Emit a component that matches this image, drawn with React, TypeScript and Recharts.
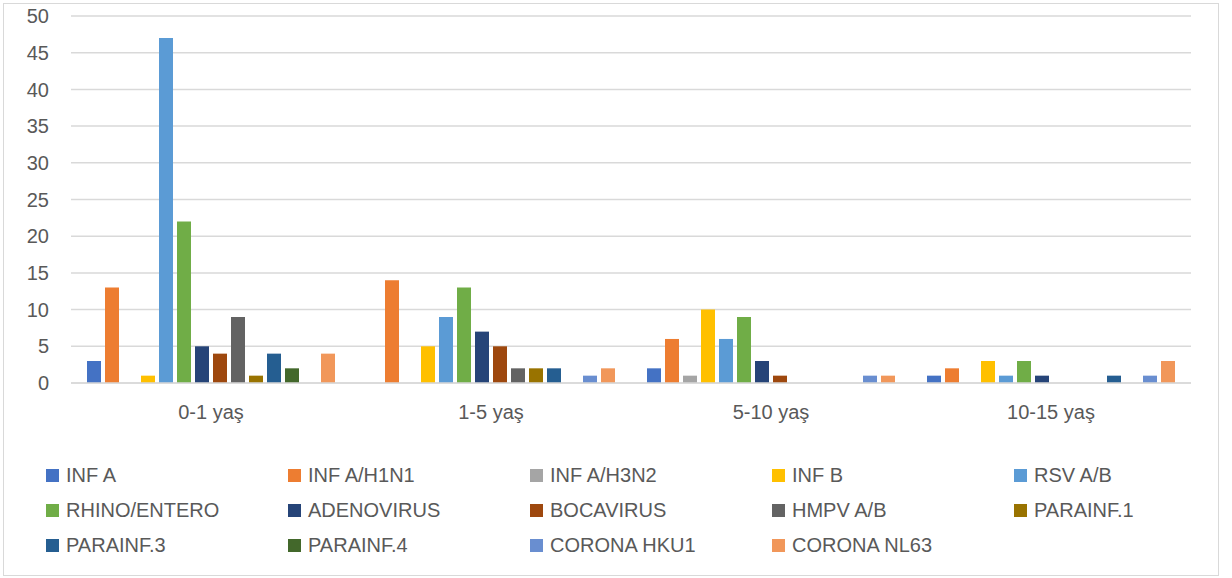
import React from 'react';
import { BarChart, Bar, XAxis, YAxis, CartesianGrid, Legend } from 'recharts';

const ageGroups = ['0-1 yaş', '1-5 yaş', '5-10 yaş', '10-15 yaş'];

const seriesNames = [
  'INF A',
  'INF A/H1N1',
  'INF A/H3N2',
  'INF B',
  'RSV A/B',
  'RHINO/ENTERO',
  'ADENOVIRUS',
  'BOCAVIRUS',
  'HMPV A/B',
  'PARAINF.1',
  'PARAINF.3',
  'PARAINF.4',
  'CORONA HKU1',
  'CORONA NL63',
];

const seriesColors = [
  '#4472C4', '#ED7D31', '#A5A5A5', '#FFC000', '#5B9BD5', '#70AD47', '#264478',
  '#9E480E', '#636363', '#997300', '#255E91', '#43682B', '#698ED0', '#F1975A',
];

// one array per age group, in the same order as seriesNames
const infant = [3, 13, 0, 1, 47, 22, 5, 4, 9, 1, 4, 2, 0, 4];
const toddler = [0, 14, 0, 5, 9, 13, 7, 5, 2, 2, 2, 0, 1, 2];
const child = [2, 6, 1, 10, 6, 9, 3, 1, 0, 0, 0, 0, 1, 1];
const teen = [1, 2, 0, 3, 1, 3, 1, 0, 0, 0, 1, 0, 1, 3];

const yTicks = [0, 5, 10, 15, 20, 25, 30, 35, 40, 45, 50];

const groupValues = [infant, toddler, child, teen];
const data = ageGroups.map((age, gi) => {
  const row: Record<string, string | number> = { age };
  seriesNames.forEach((name, si) => {
    row[name] = groupValues[gi][si];
  });
  return row;
});

const FONT = '"Liberation Sans", Arial, sans-serif';

// legend keeps the series order (recharts would sort it by name)
const renderLegend = () => (
  <div
    style={{
      display: 'grid',
      gridTemplateColumns: 'repeat(5, 242px)',
      rowGap: 12,
      paddingLeft: 42,
      fontFamily: FONT,
      fontSize: 20,
      color: '#595959',
    }}
  >
    {seriesNames.map((name, i) => (
      <div key={name} style={{ display: 'flex', alignItems: 'center', height: 23, lineHeight: '23px' }}>
        <span style={{ width: 13, height: 13, background: seriesColors[i], marginRight: 7, display: 'inline-block' }} />
        <span>{name}</span>
      </div>
    ))}
  </div>
);

export default function App() {
  return (
    <div
      style={{
        position: 'absolute',
        left: 3,
        top: 3,
        width: 1214,
        height: 571,
        border: '1px solid #d9d9d9',
        background: '#fff',
      }}
    >
      <BarChart
        width={1214}
        height={571}
        data={data}
        margin={{ top: 12, right: 27, bottom: 20, left: 0 }}
        barGap={4}
        barCategoryGap={16}
      >
        <CartesianGrid vertical={false} stroke="#d9d9d9" strokeWidth={1.5} />
        <XAxis
          dataKey="age"
          axisLine={{ stroke: '#d9d9d9', strokeWidth: 1.5 }}
          tickLine={false}
          tickMargin={16}
          height={79}
          tick={{ fontFamily: FONT, fontSize: 20, fill: '#595959' }}
        />
        <YAxis
          domain={[0, 50]}
          ticks={yTicks}
          axisLine={false}
          tickLine={false}
          width={67}
          tickMargin={16}
          tick={{ fontFamily: FONT, fontSize: 20, fill: '#595959' }}
        />
        <Legend verticalAlign="bottom" content={renderLegend} wrapperStyle={{ bottom: 18 }} />
        {seriesNames.map((name, i) => (
          <Bar
            key={name}
            dataKey={name}
            fill={seriesColors[i]}
            barSize={14}
            isAnimationActive={false}
          />
        ))}
      </BarChart>
    </div>
  );
}
